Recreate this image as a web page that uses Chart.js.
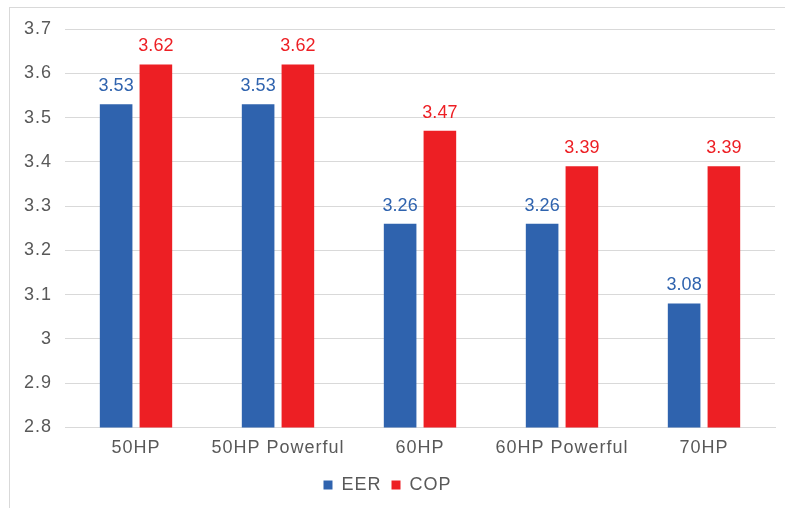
<!DOCTYPE html>
<html>
<head>
<meta charset="utf-8">
<script src="https://cdn.jsdelivr.net/npm/chart.js@4.4.0/dist/chart.umd.min.js"></script>
<style>
  html, body { margin: 0; padding: 0; background: #fff; }
  #wrap { position: relative; width: 785px; height: 508px; overflow: hidden; }
  #frame {
    position: absolute; left: 9px; top: 7px; width: 800px; height: 520px;
    border-left: 1px solid #d9d9d9; border-top: 1px solid #d9d9d9;
  }
  canvas { position: absolute; left: 0; top: 0; }
</style>
</head>
<body>
<div id="wrap">
  <div id="frame"></div>
  <canvas id="chart" width="785" height="508"></canvas>
</div>
<script>
// data
const categories = ['50HP', '50HP Powerful', '60HP', '60HP Powerful', '70HP'];
const eerValues = [3.53, 3.53, 3.26, 3.26, 3.08];
const copValues = [3.62, 3.62, 3.47, 3.39, 3.39];
const yMin = 2.8;
const yMax = 3.7;
const yStep = 0.1;

const BLUE = '#2f63ae';
const RED = '#ed1f24';
const TEXT = '#595959';
const GRID = '#d9d9d9';
const FONT = "'Liberation Sans', Arial, sans-serif";

// the original text is a bit spaced out
const spacing = {
  id: 'spacing',
  beforeUpdate(chart) { chart.ctx.letterSpacing = '1px'; },
  beforeDraw(chart) { chart.ctx.letterSpacing = '1px'; }
};

// values above the bars, same colour as the bar
const valueLabels = {
  id: 'valueLabels',
  afterDatasetsDraw(chart) {
    const ctx = chart.ctx;
    ctx.save();
    ctx.letterSpacing = '0px';
    ctx.font = '18px ' + FONT;
    ctx.textAlign = 'center';
    ctx.textBaseline = 'alphabetic';
    chart.data.datasets.forEach((ds, i) => {
      const meta = chart.getDatasetMeta(i);
      ctx.fillStyle = ds.backgroundColor;
      meta.data.forEach((bar, j) => {
        ctx.fillText(ds.data[j].toFixed(2), bar.x, bar.y - 13);
      });
    });
    ctx.restore();
  }
};

const ctx = document.getElementById('chart').getContext('2d');
new Chart(ctx, {
  type: 'bar',
  data: {
    labels: categories,
    datasets: [
      { label: 'EER', data: eerValues, backgroundColor: BLUE },
      { label: 'COP', data: copValues, backgroundColor: RED },
    ],
  },
  options: {
    responsive: false,
    animation: false,
    categoryPercentage: 0.56,
    barPercentage: 0.82,
    layout: { padding: { top: 29, right: 10, bottom: 4, left: 0 } },
    plugins: {
      legend: {
        position: 'bottom',
        labels: {
          color: TEXT,
          font: { family: FONT, size: 18 },
          boxWidth: 9,
          boxHeight: 9,
          padding: 10,
        },
      },
      tooltip: { enabled: false },
    },
    scales: {
      x: {
        grid: { display: false },
        border: { display: true, color: GRID },
        ticks: { color: TEXT, font: { family: FONT, size: 18 }, padding: 2, maxRotation: 0 },
        afterFit: (scale) => { scale.height += 5; },
      },
      y: {
        min: yMin,
        max: yMax,
        grid: { color: GRID, drawTicks: false },
        border: { display: false },
        ticks: {
          stepSize: yStep,
          color: TEXT,
          padding: 13,
          font: { family: FONT, size: 18 },
          callback: (v) => String(Number(v.toFixed(1))),
        },
        afterFit: (scale) => { scale.width = 65; },
      },
    },
  },
  plugins: [spacing, valueLabels],
});
</script>
</body>
</html>
